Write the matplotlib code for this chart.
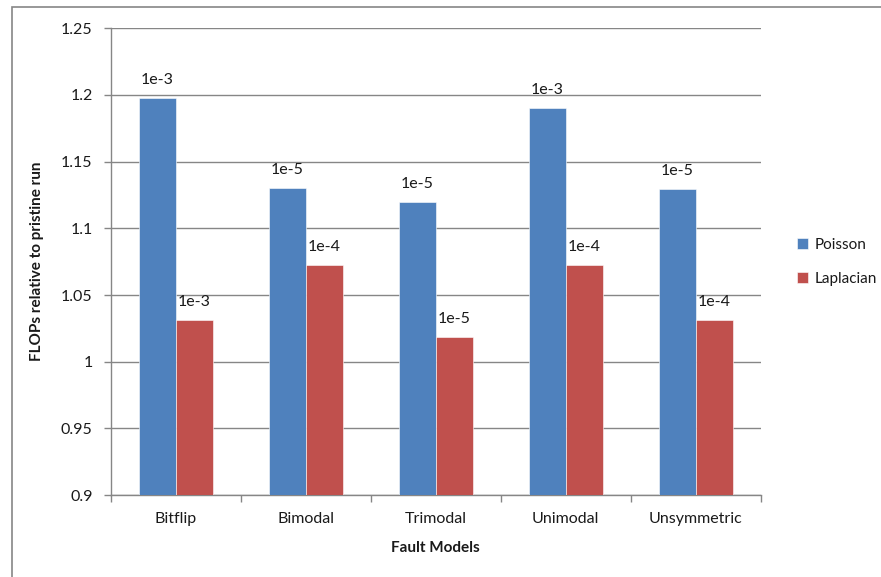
import matplotlib
matplotlib.use("Agg")
import matplotlib.pyplot as plt
import numpy as np

models = ["Bitflip", "Bimodal", "Trimodal", "Unimodal", "Unsymmetric"]
poisson = [1.198, 1.1305, 1.1195, 1.1905, 1.1295]
laplacian = [1.0315, 1.0728, 1.0182, 1.0728, 1.0315]
poisson_labels = ["1e-3", "1e-5", "1e-5", "1e-3", "1e-5"]
laplacian_labels = ["1e-3", "1e-4", "1e-5", "1e-4", "1e-4"]

plt.rcParams["font.family"] = ["Lato", "DejaVu Sans"]
txt = "#1a1a1a"
gray = "#868686"
fs = 11.5

fig = plt.figure(figsize=(8.81, 5.77), dpi=100)
ax = fig.add_axes([0.1257, 0.1421, 0.7378, 0.8088])

# outer chart frame (cut off on the right and bottom)
fig.patches.append(plt.Rectangle((12 / 881, -0.05), 1.1, 1 - 7 / 577 + 0.05,
                                 transform=fig.transFigure, fill=False,
                                 edgecolor=gray, linewidth=1.2))

x = np.arange(len(models))
w = 0.285
ax.bar(x - w / 2, np.array(poisson) - 0.9, w, bottom=0.9, color="#4F81BD",
       edgecolor="white", linewidth=0.4, label="Poisson", zorder=3)
ax.bar(x + w / 2, np.array(laplacian) - 0.9, w, bottom=0.9, color="#C0504D",
       edgecolor="white", linewidth=0.4, label="Laplacian", zorder=3)

for xi, v, lab in zip(x - w / 2, poisson, poisson_labels):
    ax.annotate(lab, (xi, v), xytext=(0, 13), textcoords="offset points",
                ha="center", va="center", fontsize=fs, color=txt)
for xi, v, lab in zip(x + w / 2, laplacian, laplacian_labels):
    ax.annotate(lab, (xi, v), xytext=(0, 13), textcoords="offset points",
                ha="center", va="center", fontsize=fs, color=txt)

ax.set_xlim(-0.5, len(models) - 0.5)
ax.set_ylim(0.9, 1.25)
yt = np.arange(0.9, 1.2501, 0.05)
ax.set_yticks(yt)
ax.set_yticklabels(["0.9", "0.95", "1", "1.05", "1.1", "1.15", "1.2", "1.25"])
ax.yaxis.grid(True, color=gray, linewidth=1, zorder=0)
ax.set_axisbelow(True)

ax.set_xticks(x)
ax.set_xticklabels(models)
ax.set_xticks(np.arange(-0.5, len(models)), minor=True)
ax.tick_params(axis="x", which="major", length=0, pad=12, labelsize=fs, colors=txt)
ax.tick_params(axis="x", which="minor", length=5, width=1, color=gray)
ax.tick_params(axis="y", length=5, width=1, color=gray, labelsize=fs,
               labelcolor=txt, pad=8)

for s in ["top", "right"]:
    ax.spines[s].set_visible(False)
for s in ["left", "bottom"]:
    ax.spines[s].set_color(gray)
    ax.spines[s].set_linewidth(1)

ax.set_xlabel("Fault Models", fontsize=11, fontweight="bold", color=txt, labelpad=11)
ax.set_ylabel("FLOPs relative to pristine run", fontsize=11, fontweight="bold",
              color=txt, labelpad=12)

ax.legend(loc="center left", bbox_to_anchor=(1.035, 0.5), frameon=False,
          fontsize=11, handlelength=0.7, handleheight=0.7, handletextpad=0.45,
          labelspacing=1.3, labelcolor=txt)

fig.savefig("out.png", dpi=100, facecolor="white")
